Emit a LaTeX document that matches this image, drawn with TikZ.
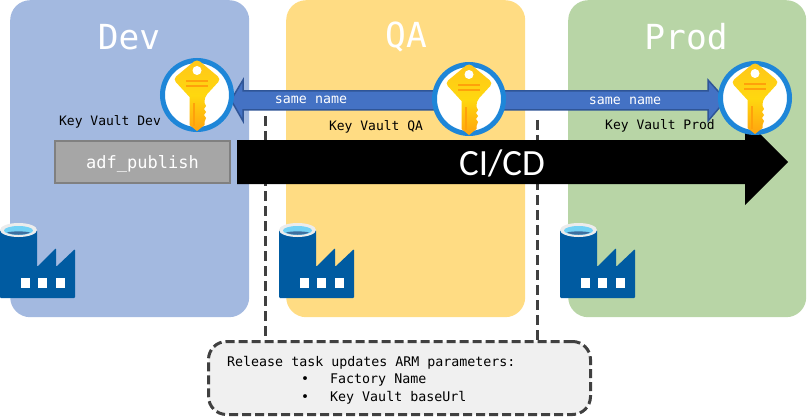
\documentclass[tikz,border=0pt]{standalone}
\usepackage{fontspec}
\setmonofont{DejaVu Sans Mono}
\setsansfont{Carlito}
\usetikzlibrary{shapes.geometric}
\definecolor{devfill}{HTML}{A3B9E0}
\definecolor{qafill}{HTML}{FFDC83}
\definecolor{prodfill}{HTML}{B8D5A6}
\definecolor{adfblue}{HTML}{005BA1}
\definecolor{ringblue}{HTML}{1E86D8}
\definecolor{arrowfill}{HTML}{4472C4}
\definecolor{arrowline}{HTML}{2F5597}
\definecolor{dashgrey}{HTML}{404040}
\definecolor{keytop}{HTML}{FFC61A}
\definecolor{keymid}{HTML}{FFD80F}
\definecolor{keybot}{HTML}{FFA30F}
\definecolor{keyslot}{HTML}{FFA10A}
\definecolor{notefill}{HTML}{F0F0F0}
\tikzset{
  panel/.style={draw=none,rounded corners=20pt,minimum width=#1,minimum height=317pt,anchor=north west,inner sep=0pt},
  title/.style={font=\ttfamily\fontsize{34.5}{34.5}\selectfont,text=white,anchor=center,inner sep=0pt},
  vaultlabel/.style={font=\ttfamily\fontsize{13}{13}\selectfont,text=black,anchor=base,inner sep=0pt},
  smalltext/.style={font=\ttfamily\fontsize{13.3}{13.3}\selectfont,text=black,anchor=base west,inner sep=0pt},
  arrowlabel/.style={font=\ttfamily\fontsize{13.3}{13.3}\selectfont,text=white,anchor=base,inner sep=0pt},
  guide/.style={draw=dashgrey,line width=3pt,dash pattern=on 10pt off 5pt},
  keyicon/.pic={
    \fill[white] (0,0) circle (33);
    \draw[ringblue,line width=5pt] (0,0) circle (34.5);
    \path[top color=keytop,bottom color=keybot,middle color=keymid]
      [rounded corners=4pt] (0,-36) -- (24,-16) -- (7.5,2) [sharp corners] -- (7.5,8) -- (9,11) -- (7,14) -- (9,17) -- (7,20) -- (9,23) -- (7.5,27)
      -- (7.5,30) -- (0,36) -- (-7.5,30) -- (-7.5,2) [rounded corners=4pt] -- (-24,-16) -- cycle;
    \fill[white] (0,-24.5) circle (4.5);
    \fill[keyslot] (-11,-15) rectangle (11,-12.5);
    \fill[keyslot] (-11,-10) rectangle (11,-7.5);
    \fill[keyslot] (-4,8) rectangle (-2,31);
  },
  factory/.pic={
    \fill[adfblue,rounded corners=1pt] (0,6) -- (37,6) -- (37,43) -- (56,24) -- (56,43) -- (75,25) -- (75,74) -- (0,74) -- cycle;
    \fill[white] (21,54) rectangle (30,64);
    \fill[white] (38,54) rectangle (47,64);
    \fill[white] (56,54) rectangle (65,64);
    \fill[gray!15] (18.5,6) ellipse (18.5 and 7);
    \fill[cyan!55!white] (18.5,6.5) ellipse (14.5 and 4.5);
    \fill[cyan!60!blue!70!black] (7,8.5) .. controls (12,11.5) and (25,11.5) .. (30,8.5) .. controls (25,7) and (12,7) .. (7,8.5) -- cycle;
  }
}
\begin{document}
\begin{tikzpicture}[x=1pt,y=-1pt]
\useasboundingbox (0,0) rectangle (808,417);
% panels
\node[panel=239pt,fill=devfill] (dev) at (10,0) {};
\node[panel=239pt,fill=qafill] (qa) at (286,0) {};
\node[panel=238pt,fill=prodfill] (prod) at (568,0) {};
\node[title] (devtitle) at (129,37) {Dev};
\node[title] (qatitle) at (406,37) {QA};
\node[title] (prodtitle) at (686,37) {Prod};
% callout and guides
\node[draw=dashgrey,fill=notefill,rounded corners=18pt,line width=3pt,dash pattern=on 9pt off 4pt,
      minimum width=382pt,minimum height=73pt,inner sep=0pt] (note) at (399.5,378) {};
\coordinate (guideA) at (265,116);
\coordinate (guideB) at (537,120);
\draw[guide] (guideA) -- (guideA |- note.north);
\draw[guide] (guideB) -- (guideB |- note.north);
\node[smalltext] (noteA) at (227,366) {Release task updates ARM parameters:};
\node[smalltext] (bulletA) at (301,383) {•};
\node[smalltext] (itemA) at (330,383) {Factory Name};
\node[smalltext] (bulletB) at (301,401) {•};
\node[smalltext] (itemB) at (330,401) {Key Vault baseUrl};
% same name arrow
\filldraw[fill=arrowfill,draw=arrowline,line width=1.5pt,line join=miter]
  (231,100) -- (243,80) -- (243,91) -- (708,91) -- (708,80) -- (726,100) -- (708,121) -- (708,110) -- (243,110) -- (243,121) -- cycle;
\node[arrowlabel] (nameA) at (311,104) {same name};
\node[arrowlabel] (nameB) at (625,105) {same name};
% CI/CD arrow
\fill[black] (237,140) -- (745,140) -- (745,119) -- (788,162) -- (745,205) -- (745,184) -- (237,184) -- cycle;
\node[font=\sffamily\fontsize{37}{37}\selectfont,text=white,inner sep=0pt] (cicd) at (502,163) {CI/CD};
% publish branch
\node[draw=black!50,line width=2pt,fill=black!35,minimum width=175pt,minimum height=42pt,inner sep=0pt,
      font=\ttfamily\fontsize{17}{17}\selectfont,text=white,text depth=0pt] (publish) at (142.5,162) {adf\_publish};
% labels
\node[vaultlabel] (kvdev) at (110,126) {Key Vault Dev};
\node[vaultlabel] (kvqa) at (376,131) {Key Vault QA};
\node[vaultlabel] (kvprod) at (660,129) {Key Vault Prod};
% keys
\pic at (197,95) {keyicon};
\pic at (469,99) {keyicon};
\pic at (755,98) {keyicon};
% factories
\pic at (0,224) {factory};
\pic at (279,224) {factory};
\pic at (560,224) {factory};
\end{tikzpicture}
\end{document}
